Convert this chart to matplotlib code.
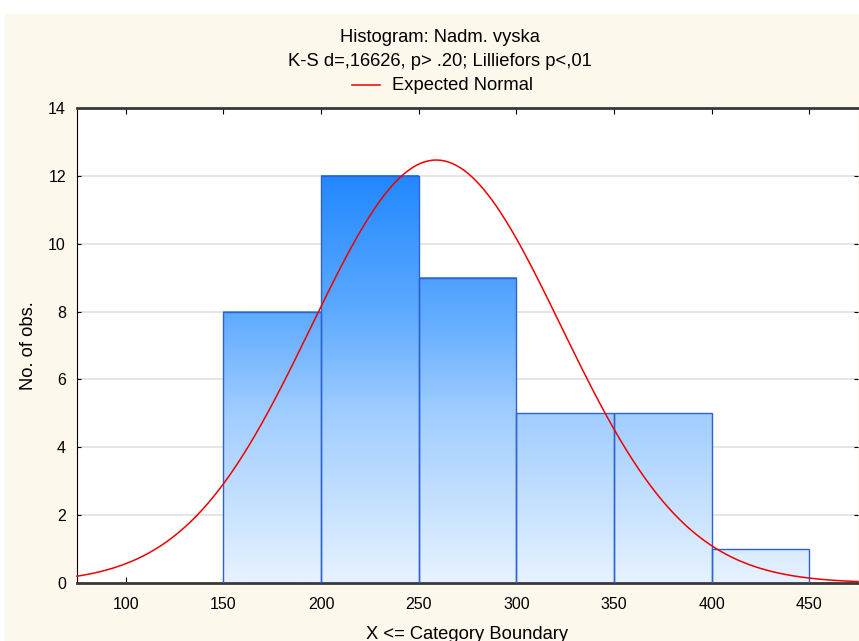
import numpy as np
import matplotlib.pyplot as plt
from matplotlib.colors import LinearSegmentedColormap
from matplotlib.patches import Rectangle
from matplotlib.lines import Line2D

plt.rcParams['font.family'] = ['Liberation Sans', 'DejaVu Sans']

# histogram bins (lower edges) and counts
bin_left = [150, 200, 250, 300, 350, 400]
counts = [8, 12, 9, 5, 5, 1]
bin_width = 50
# fitted normal
mean_x = 259
sd_x = 64

fig = plt.figure(figsize=(8.59, 6.41), dpi=100)
fig.patch.set_facecolor('white')
# cream panel behind everything
fig.patches.append(Rectangle((5 / 859, 0), 1, 1 - 14 / 641, transform=fig.transFigure,
                             facecolor='#fdf8ec', edgecolor='none', zorder=-10))

ax = fig.add_axes([77 / 859, 1 - 583 / 641, 781 / 859, 475 / 641])
ax.set_facecolor('white')

ymax = max(counts)
cmap = LinearSegmentedColormap.from_list(
    'bl', [(0, '#e6f2ff'), (5 / 12, '#a0cdff'), (8 / 12, '#5eaaff'), (1, '#2288ff')])
for x0, c in zip(bin_left, counts):
    grad = np.linspace(0, c, 200).reshape(-1, 1)
    ax.imshow(grad, extent=[x0, x0 + bin_width, 0, c], origin='lower', aspect='auto',
              cmap=cmap, vmin=0, vmax=ymax, zorder=2, interpolation='bilinear')
ax.bar(bin_left, counts, width=bin_width, align='edge', facecolor='none',
       edgecolor='#2c62d2', linewidth=1, zorder=3)

xs = np.linspace(75, 475, 400)
n = sum(counts)
ys = n * bin_width / (sd_x * np.sqrt(2 * np.pi)) * np.exp(-0.5 * ((xs - mean_x) / sd_x) ** 2)
ax.plot(xs, ys, color='#ee0000', lw=1.1, zorder=4, clip_on=False)

ax.set_xlim(75, 475)
ax.set_ylim(0, 14)
ax.set_xticks([100, 150, 200, 250, 300, 350, 400, 450])
ax.set_yticks(range(0, 15, 2))
ax.grid(axis='y', color='#e0e0e0', lw=1.2, zorder=0)
ax.set_axisbelow(True)
ax.tick_params(axis='x', direction='in', top=True, length=4, labelsize=11.5, pad=10)
ax.tick_params(axis='y', direction='in', right=True, length=3, labelsize=11.5, pad=8)
for s in ['top', 'bottom']:
    ax.spines[s].set_color('#383838')
    ax.spines[s].set_linewidth(2)
ax.spines['left'].set_color('black')
ax.spines['right'].set_visible(False)

ax.set_ylabel('No. of obs.', fontsize=13.2, labelpad=8)
ax.set_xlabel('X <= Category Boundary', fontsize=13.2, labelpad=10.5)

cx = 440 / 859
fig.text(cx, 1 - 38 / 641, 'Histogram: Nadm. vyska', ha='center', va='center', fontsize=13.2)
fig.text(cx, 1 - 62 / 641, 'K-S d=,16626, p> .20; Lilliefors p<,01', ha='center', va='center', fontsize=13.2)
fig.text(392 / 859, 1 - 85 / 641, 'Expected Normal', ha='left', va='center', fontsize=13.2)
fig.add_artist(Line2D([352 / 859, 380 / 859], [1 - 85 / 641, 1 - 85 / 641], color='#ee0000', lw=1.1))

fig.savefig('out.png', dpi=100)
